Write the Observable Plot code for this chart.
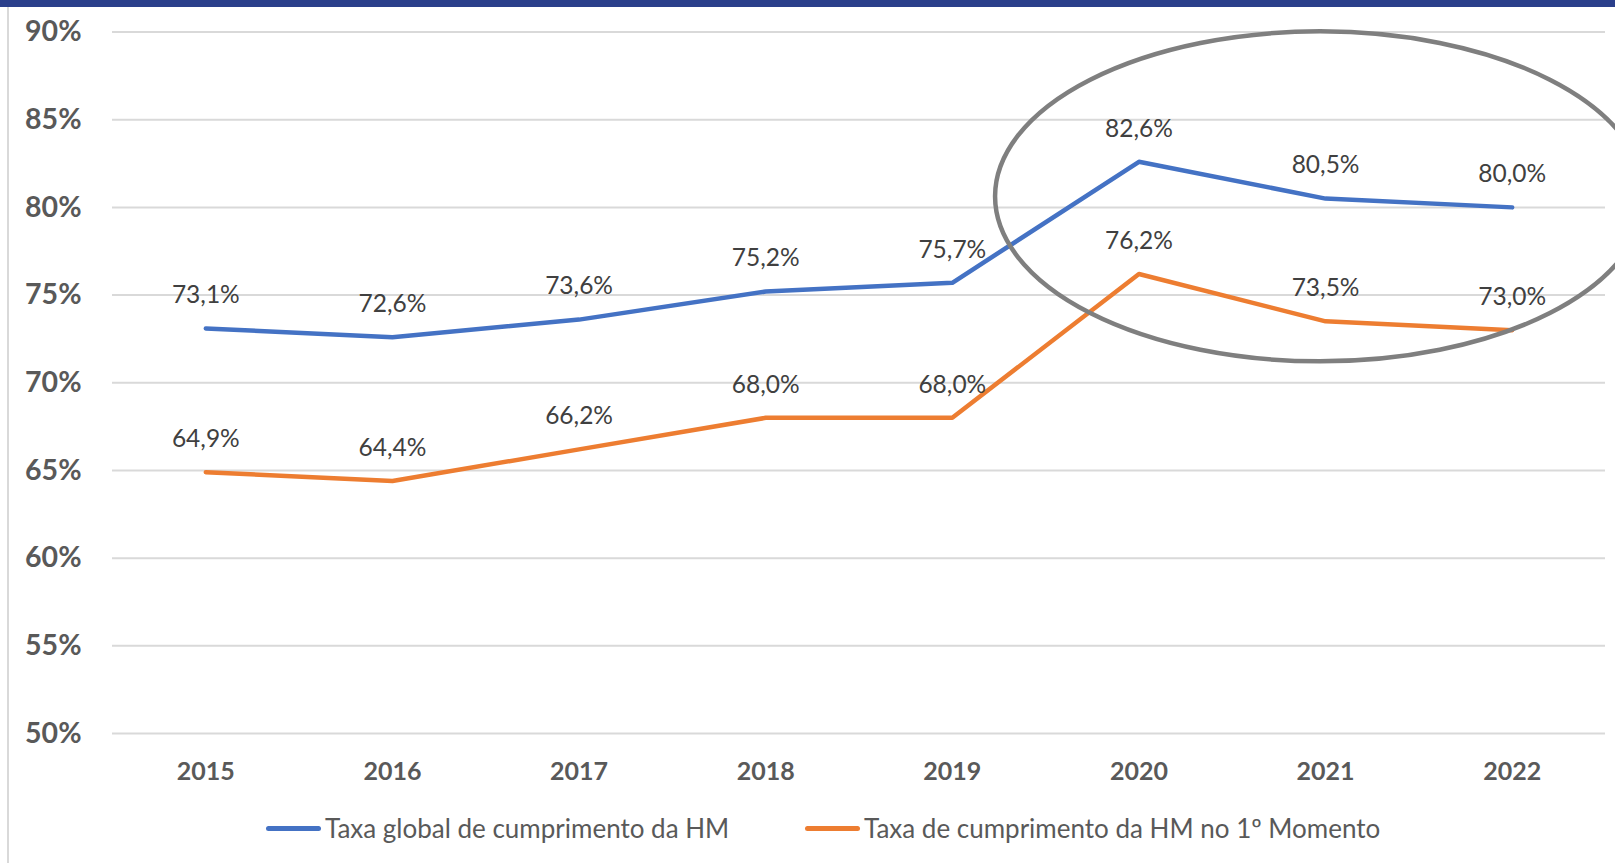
<!DOCTYPE html>
<html>
<head>
<meta charset="utf-8">
<script src="https://cdn.jsdelivr.net/npm/d3@7"></script>
<script src="https://cdn.jsdelivr.net/npm/@observablehq/plot@0.6"></script>
<style>
  html, body { margin: 0; padding: 0; background: #fff; }
  #wrap { position: relative; width: 1615px; height: 863px; overflow: hidden; font-family: Lato, "Open Sans", sans-serif; }
  #topbar { position: absolute; left: 0; top: 0; width: 1615px; height: 7px; background: #2a3f8b; }
  #leftline { position: absolute; left: 7px; top: 7px; width: 2px; height: 856px; background: #d9d9d9; }
  #chart { position: absolute; left: 0; top: 0; }
  #legend { position: absolute; top: 828px; left: 0; width: 1615px; height: 0; }
  .item { display: flex; align-items: center; position: absolute; top: 0; transform: translateY(-50%); }
  .sw { width: 55px; height: 5px; border-radius: 3px; margin-right: 4px; }
  .lb { font-size: 26px; color: #595959; white-space: nowrap; }
</style>
</head>
<body>
<div id="wrap">
  <div id="chart"></div>
  <div id="topbar"></div>
  <div id="leftline"></div>
  <div id="legend"></div>
</div>
<script>
const years = ["2015", "2016", "2017", "2018", "2019", "2020", "2021", "2022"];
const globalRate = [73.1, 72.6, 73.6, 75.2, 75.7, 82.6, 80.5, 80.0];
const firstMomentRate = [64.9, 64.4, 66.2, 68.0, 68.0, 76.2, 73.5, 73.0];
const seriesNames = ["Taxa global de cumprimento da HM", "Taxa de cumprimento da HM no 1º Momento"];
const seriesColors = ["#4472C4", "#ED7D31"];
const yTicks = [50, 55, 60, 65, 70, 75, 80, 85, 90];

const rows = [];
years.forEach((yr, i) => {
  rows.push({year: yr, value: globalRate[i], series: seriesNames[0]});
  rows.push({year: yr, value: firstMomentRate[i], series: seriesNames[1]});
});
const fmt = v => v.toFixed(1).replace(".", ",") + "%";

const plot = Plot.plot({
  width: 1615,
  height: 800,
  marginLeft: 112,
  marginRight: 10,
  marginTop: 31.5,
  marginBottom: 67,
  style: {fontFamily: "Lato, 'Open Sans', sans-serif", background: "transparent", overflow: "visible"},
  x: {type: "point", domain: years, padding: 0.5, round: false},
  y: {domain: [50, 90]},
  color: {domain: seriesNames, range: seriesColors},
  marks: [
    Plot.gridY(yTicks, {stroke: "#d9d9d9", strokeOpacity: 1, strokeWidth: 2}),
    Plot.axisY(yTicks, {tickSize: 0, tickPadding: 31, tickFormat: d => d + "%", fontSize: 28.5, fontWeight: "bold", fill: "#595959", label: null}),
    Plot.axisX({tickSize: 0, tickPadding: 29, fontSize: 25, fontWeight: "bold", fill: "#595959", label: null}),
    Plot.line(rows, {x: "year", y: "value", z: "series", stroke: "series", strokeWidth: 4.5, strokeLinejoin: "round"}),
    Plot.text(rows, {x: "year", y: "value", text: d => fmt(d.value), dy: -33, fontSize: 24.5, fill: "#404040"})
  ]
});
document.getElementById("chart").appendChild(plot);

// annotation ellipse around 2020–2022
const xs = plot.scale("x"), ys = plot.scale("y");
d3.select(plot).append("ellipse")
  .attr("cx", xs.apply("2021") - 5)
  .attr("cy", ys.apply(80.6))
  .attr("rx", 325)
  .attr("ry", 165)
  .attr("fill", "none")
  .attr("stroke", "#7f7f7f")
  .attr("stroke-width", 4.5);

// legend
const legend = document.getElementById("legend");
const lefts = [266, 805];
seriesNames.forEach((name, i) => {
  const it = document.createElement("div");
  it.className = "item";
  it.style.left = lefts[i] + "px";
  it.innerHTML = `<div class="sw" style="background:${seriesColors[i]}"></div><div class="lb">${name}</div>`;
  legend.appendChild(it);
});
</script>
</body>
</html>
